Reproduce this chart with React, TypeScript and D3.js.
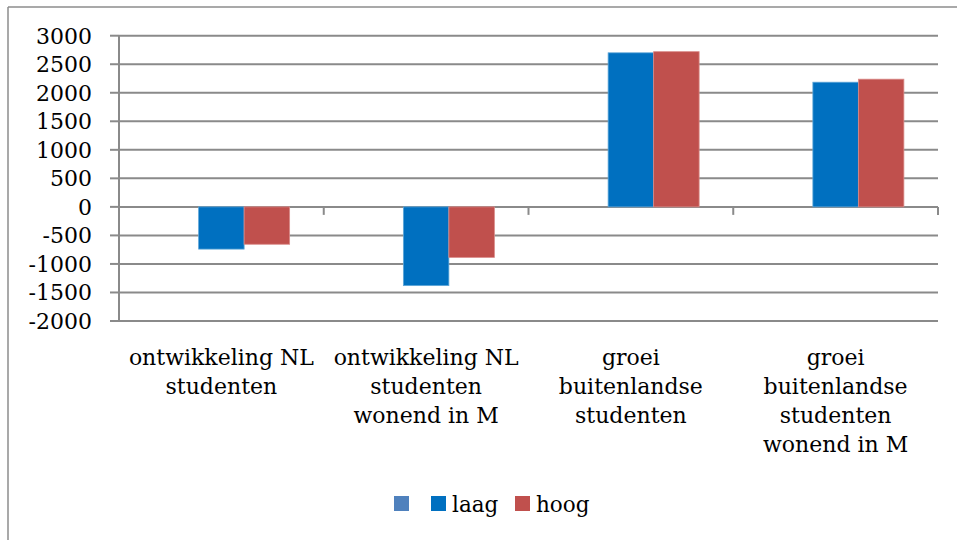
import * as d3 from "d3";

// chart data
const categories = [
  ["ontwikkeling NL", "studenten"],
  ["ontwikkeling NL", "studenten", "wonend in M"],
  ["groei", "buitenlandse", "studenten"],
  ["groei", "buitenlandse", "studenten", "wonend in M"],
];
const seriesNames = ["", "laag", "hoog"];
const seriesColors = ["#4F81BD", "#0070C0", "#C0504D"];
const series0: (number | null)[] = [null, null, null, null];
const laag = [-740, -1380, 2700, 2185];
const hoog = [-655, -885, 2720, 2238];
const yTicks = [-2000, -1500, -1000, -500, 0, 500, 1000, 1500, 2000, 2500, 3000];

const allSeries = [series0, laag, hoog];

export default function App() {
  const width = 957;
  const height = 541;
  const left = 119;
  const right = 938;
  const top = 35.7;
  const bottom = 321;
  const font = "'DejaVu Serif', serif";

  const x = d3.scaleBand<number>()
    .domain(d3.range(categories.length))
    .range([left, right])
    .paddingInner(1.5 / 4.5)
    .paddingOuter(0.75 / 4.5);
  const step = (right - left) / categories.length;
  const inner = d3.scaleBand<number>()
    .domain(d3.range(allSeries.length))
    .range([0, x.bandwidth()]);
  const y = d3.scaleLinear().domain([-2000, 3000]).range([bottom, top]);

  return (
    <svg
      width={width}
      height={height}
      style={{ position: "absolute", left: 0, top: 0, background: "#fff" }}
    >
      {/* chart border */}
      <line x1={8} x2={width} y1={7} y2={7} stroke="#8c8c8c" strokeWidth={1.5} />
      <line x1={8} x2={8} y1={7} y2={540} stroke="#8c8c8c" strokeWidth={1.5} />

      {/* gridlines */}
      <g>
        {yTicks.map((t) => (
          <line key={t} x1={left} x2={right} y1={y(t)} y2={y(t)} stroke="#8a8a8a" strokeWidth={2} />
        ))}
      </g>

      {/* bars */}
      <g>
        {allSeries.map((s, si) =>
          s.map((v, i) =>
            v == null ? null : (
              <rect
                key={`${si}-${i}`}
                x={(x(i) ?? 0) + (inner(si) ?? 0)}
                width={inner.bandwidth()}
                y={Math.min(y(v), y(0))}
                height={Math.abs(y(v) - y(0))}
                fill={seriesColors[si]}
                stroke={si === 2 ? "#d98a88" : "#5ea6d8"}
                strokeWidth={0.8}
              />
            )
          )
        )}
      </g>

      {/* y axis */}
      <line x1={left} x2={left} y1={y(3000)} y2={y(-2000)} stroke="#8a8a8a" strokeWidth={2} />
      <g>
        {yTicks.map((t) => (
          <g key={t}>
            <line x1={left - 9} x2={left} y1={y(t)} y2={y(t)} stroke="#8a8a8a" strokeWidth={2} />
            <text
              x={92}
              y={y(t)}
              dy="0.36em"
              textAnchor="end"
              fontFamily={font}
              fontSize={22}
              fill="#000"
            >
              {t}
            </text>
          </g>
        ))}
      </g>

      {/* category ticks at zero line */}
      <g>
        {d3.range(categories.length + 1).map((i) => (
          <line
            key={i}
            x1={left + i * step}
            x2={left + i * step}
            y1={y(0)}
            y2={y(0) + 8}
            stroke="#8a8a8a"
            strokeWidth={2}
          />
        ))}
      </g>

      {/* category labels */}
      <g>
        {categories.map((lines, i) => (
          <text
            key={i}
            textAnchor="middle"
            fontFamily={font}
            fontSize={22}
            fill="#000"
          >
            {lines.map((l, j) => (
              <tspan key={j} x={left + (i + 0.5) * step} y={365 + j * 29}>
                {l}
              </tspan>
            ))}
          </text>
        ))}
      </g>

      {/* legend */}
      <g>
        {[394, 431, 515].map((lx, si) => (
          <g key={si}>
            <rect x={lx} y={496} width={15} height={15} fill={seriesColors[si]} />
            {seriesNames[si] && (
              <text x={lx + 21} y={512} fontFamily={font} fontSize={21.5} fill="#000">
                {seriesNames[si]}
              </text>
            )}
          </g>
        ))}
      </g>
    </svg>
  );
}
